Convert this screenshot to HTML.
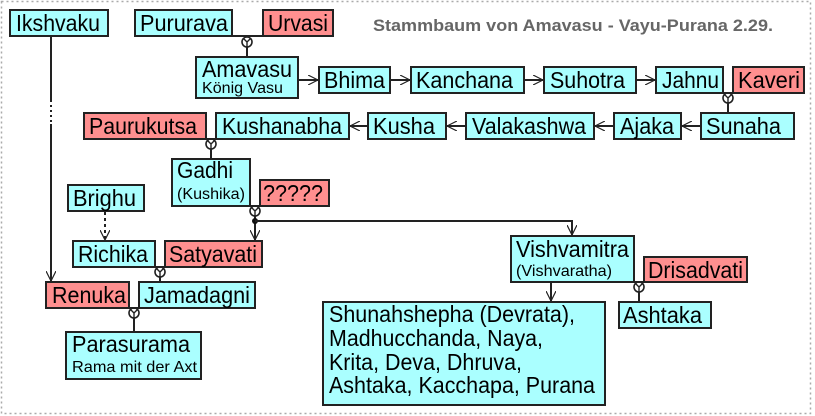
<!DOCTYPE html>
<html><head><meta charset="utf-8"><style>
html,body{margin:0;padding:0;background:#fff;}
svg{display:block;}
text{font-family:"Liberation Sans",Arial,sans-serif;fill:#000;}
.n{font-size:23px;}
.s{font-size:16px;}
.c{fill:#aaffff;stroke:#222;stroke-width:2;}
.r{fill:#ff8f8f;stroke:#222;stroke-width:2;}
.l{stroke:#222;stroke-width:2;fill:none;}
</style></head><body>
<svg width="815" height="416" viewBox="0 0 815 416" xmlns="http://www.w3.org/2000/svg">
<defs>
<marker id="a" viewBox="0 0 10 10" refX="10" refY="5" markerWidth="10" markerHeight="10" markerUnits="userSpaceOnUse" orient="auto">
<path d="M0,0 L10,5 L0,10" fill="none" stroke="#222" stroke-width="1.2"/>
</marker>
<g id="y"><circle cx="0" cy="0" r="5" fill="none" stroke="#222" stroke-width="1.6"/><path d="M-3.5,-3.5 L0,0 L3.5,-3.5 M0,0 L0,5" fill="none" stroke="#222" stroke-width="1.4"/></g>
</defs>
<rect x="1.5" y="1.5" width="809" height="412" fill="none" stroke="#aaa" stroke-width="1.5" stroke-dasharray="2,3"/>
<text x="373" y="31" textLength="400" lengthAdjust="spacingAndGlyphs" style="font-size:17px;font-weight:bold;fill:#666">Stammbaum von Amavasu - Vayu-Purana 2.29.</text>

<path class="l" d="M51,36 V100"/>
<path class="l" d="M51,100 V124" stroke-dasharray="2,3"/>
<path class="l" d="M51,124 V281" marker-end="url(#a)"/>
<path class="l" d="M105,212 V240" stroke-dasharray="3,3" marker-end="url(#a)"/>
<path class="l" d="M232,36 H263"/><use href="#y" x="247" y="42"/><path class="l" d="M247,47 V57"/>
<path class="l" d="M298,80 H318" marker-end="url(#a)"/>
<path class="l" d="M390,80 H410" marker-end="url(#a)"/>
<path class="l" d="M524,80 H543" marker-end="url(#a)"/>
<path class="l" d="M636,80 H655" marker-end="url(#a)"/>
<path class="l" d="M723,93 H733"/><use href="#y" x="728" y="98"/><path class="l" d="M728,103 V113"/>
<path class="l" d="M701,126 H682" marker-end="url(#a)"/>
<path class="l" d="M614,126 H595" marker-end="url(#a)"/>
<path class="l" d="M466,126 H447" marker-end="url(#a)"/>
<path class="l" d="M368,126 H350" marker-end="url(#a)"/>
<path class="l" d="M206,139 H216"/><use href="#y" x="211" y="144"/><path class="l" d="M211,149 V159"/>
<path class="l" d="M250,206 H260"/><use href="#y" x="255" y="211"/>
<path class="l" d="M255,216 V240" marker-end="url(#a)"/>
<circle cx="255" cy="221" r="3" fill="#111"/>
<path class="l" d="M255,221 H572 V235" marker-end="url(#a)"/>
<path class="l" d="M155,267 H165"/><use href="#y" x="160" y="272"/><path class="l" d="M160,277 V282"/>
<path class="l" d="M129,308 H139"/><use href="#y" x="134" y="313"/><path class="l" d="M134,318 V331"/>
<path class="l" d="M551,282 V301" marker-end="url(#a)"/>
<path class="l" d="M634,282 H644"/><use href="#y" x="639" y="287"/><path class="l" d="M639,292 V302"/>

<rect class="c" x="10" y="10" width="98" height="26"/><text class="n" x="16" y="31" textLength="84" lengthAdjust="spacingAndGlyphs">Ikshvaku</text>
<rect class="c" x="135" y="10" width="97" height="26"/><text class="n" x="140" y="31" textLength="88" lengthAdjust="spacingAndGlyphs">Pururava</text>
<rect class="r" x="263" y="10" width="70" height="26"/><text class="n" x="268" y="31" textLength="60" lengthAdjust="spacingAndGlyphs">Urvasi</text>
<rect class="c" x="196" y="57" width="102" height="41"/><text class="n" x="202" y="77" textLength="90" lengthAdjust="spacingAndGlyphs">Amavasu</text><text class="s" x="202" y="93" textLength="81" lengthAdjust="spacingAndGlyphs">König Vasu</text>
<rect class="c" x="319" y="67" width="71" height="26"/><text class="n" x="324" y="88" textLength="61" lengthAdjust="spacingAndGlyphs">Bhima</text>
<rect class="c" x="411" y="67" width="113" height="26"/><text class="n" x="416" y="88" textLength="97" lengthAdjust="spacingAndGlyphs">Kanchana</text>
<rect class="c" x="544" y="67" width="92" height="26"/><text class="n" x="550" y="88" textLength="75" lengthAdjust="spacingAndGlyphs">Suhotra</text>
<rect class="c" x="656" y="67" width="67" height="26"/><text class="n" x="662" y="88" textLength="57" lengthAdjust="spacingAndGlyphs">Jahnu</text>
<rect class="r" x="733" y="67" width="71" height="26"/><text class="n" x="738" y="88" textLength="62" lengthAdjust="spacingAndGlyphs">Kaveri</text>
<rect class="c" x="701" y="113" width="93" height="26"/><text class="n" x="706" y="134" textLength="75" lengthAdjust="spacingAndGlyphs">Sunaha</text>
<rect class="c" x="614" y="113" width="67" height="26"/><text class="n" x="620" y="134" textLength="54" lengthAdjust="spacingAndGlyphs">Ajaka</text>
<rect class="c" x="466" y="113" width="128" height="26"/><text class="n" x="472" y="134" textLength="114" lengthAdjust="spacingAndGlyphs">Valakashwa</text>
<rect class="c" x="368" y="113" width="78" height="26"/><text class="n" x="373" y="134" textLength="62" lengthAdjust="spacingAndGlyphs">Kusha</text>
<rect class="c" x="216" y="113" width="133" height="26"/><text class="n" x="222" y="134" textLength="120" lengthAdjust="spacingAndGlyphs">Kushanabha</text>
<rect class="r" x="84" y="113" width="122" height="26"/><text class="n" x="89" y="134" textLength="108" lengthAdjust="spacingAndGlyphs">Paurukutsa</text>
<rect class="c" x="172" y="159" width="78" height="47"/><text class="n" x="177" y="178" textLength="56" lengthAdjust="spacingAndGlyphs">Gadhi</text><text class="s" x="177" y="199" textLength="68" lengthAdjust="spacingAndGlyphs">(Kushika)</text>
<rect class="r" x="260" y="180" width="69" height="26"/><text class="n" x="263" y="201" textLength="60" lengthAdjust="spacingAndGlyphs">?????</text>
<rect class="c" x="68" y="185" width="76" height="26"/><text class="n" x="73" y="206" textLength="63" lengthAdjust="spacingAndGlyphs">Brighu</text>
<rect class="c" x="73" y="241" width="82" height="26"/><text class="n" x="78" y="262" textLength="70" lengthAdjust="spacingAndGlyphs">Richika</text>
<rect class="r" x="165" y="241" width="97" height="26"/><text class="n" x="169" y="262" textLength="88" lengthAdjust="spacingAndGlyphs">Satyavati</text>
<rect class="r" x="46" y="282" width="83" height="26"/><text class="n" x="52" y="303" textLength="74" lengthAdjust="spacingAndGlyphs">Renuka</text>
<rect class="c" x="139" y="282" width="116" height="26"/><text class="n" x="144" y="303" textLength="106" lengthAdjust="spacingAndGlyphs">Jamadagni</text>
<rect class="c" x="66" y="332" width="135" height="47"/><text class="n" x="72" y="352" textLength="118" lengthAdjust="spacingAndGlyphs">Parasurama</text><text class="s" x="72" y="372" textLength="125" lengthAdjust="spacingAndGlyphs">Rama mit der Axt</text>
<rect class="c" x="511" y="236" width="123" height="46"/><text class="n" x="516" y="257" textLength="113" lengthAdjust="spacingAndGlyphs">Vishvamitra</text><text class="s" x="516" y="276" textLength="96" lengthAdjust="spacingAndGlyphs">(Vishvaratha)</text>
<rect class="r" x="644" y="257" width="103" height="25"/><text class="n" x="648" y="278" textLength="95" lengthAdjust="spacingAndGlyphs">Drisadvati</text>
<rect class="c" x="619" y="302" width="92" height="26"/><text class="n" x="623" y="323" textLength="79" lengthAdjust="spacingAndGlyphs">Ashtaka</text>
<rect class="c" x="323" y="302" width="282" height="103"/>
<text class="n" x="329" y="322" textLength="246" lengthAdjust="spacingAndGlyphs">Shunahshepha (Devrata),</text>
<text class="n" x="329" y="346" textLength="214" lengthAdjust="spacingAndGlyphs">Madhucchanda, Naya,</text>
<text class="n" x="329" y="370" textLength="193" lengthAdjust="spacingAndGlyphs">Krita, Deva, Dhruva,</text>
<text class="n" x="329" y="393" textLength="266" lengthAdjust="spacingAndGlyphs">Ashtaka, Kacchapa, Purana</text>
</svg>
</body></html>
